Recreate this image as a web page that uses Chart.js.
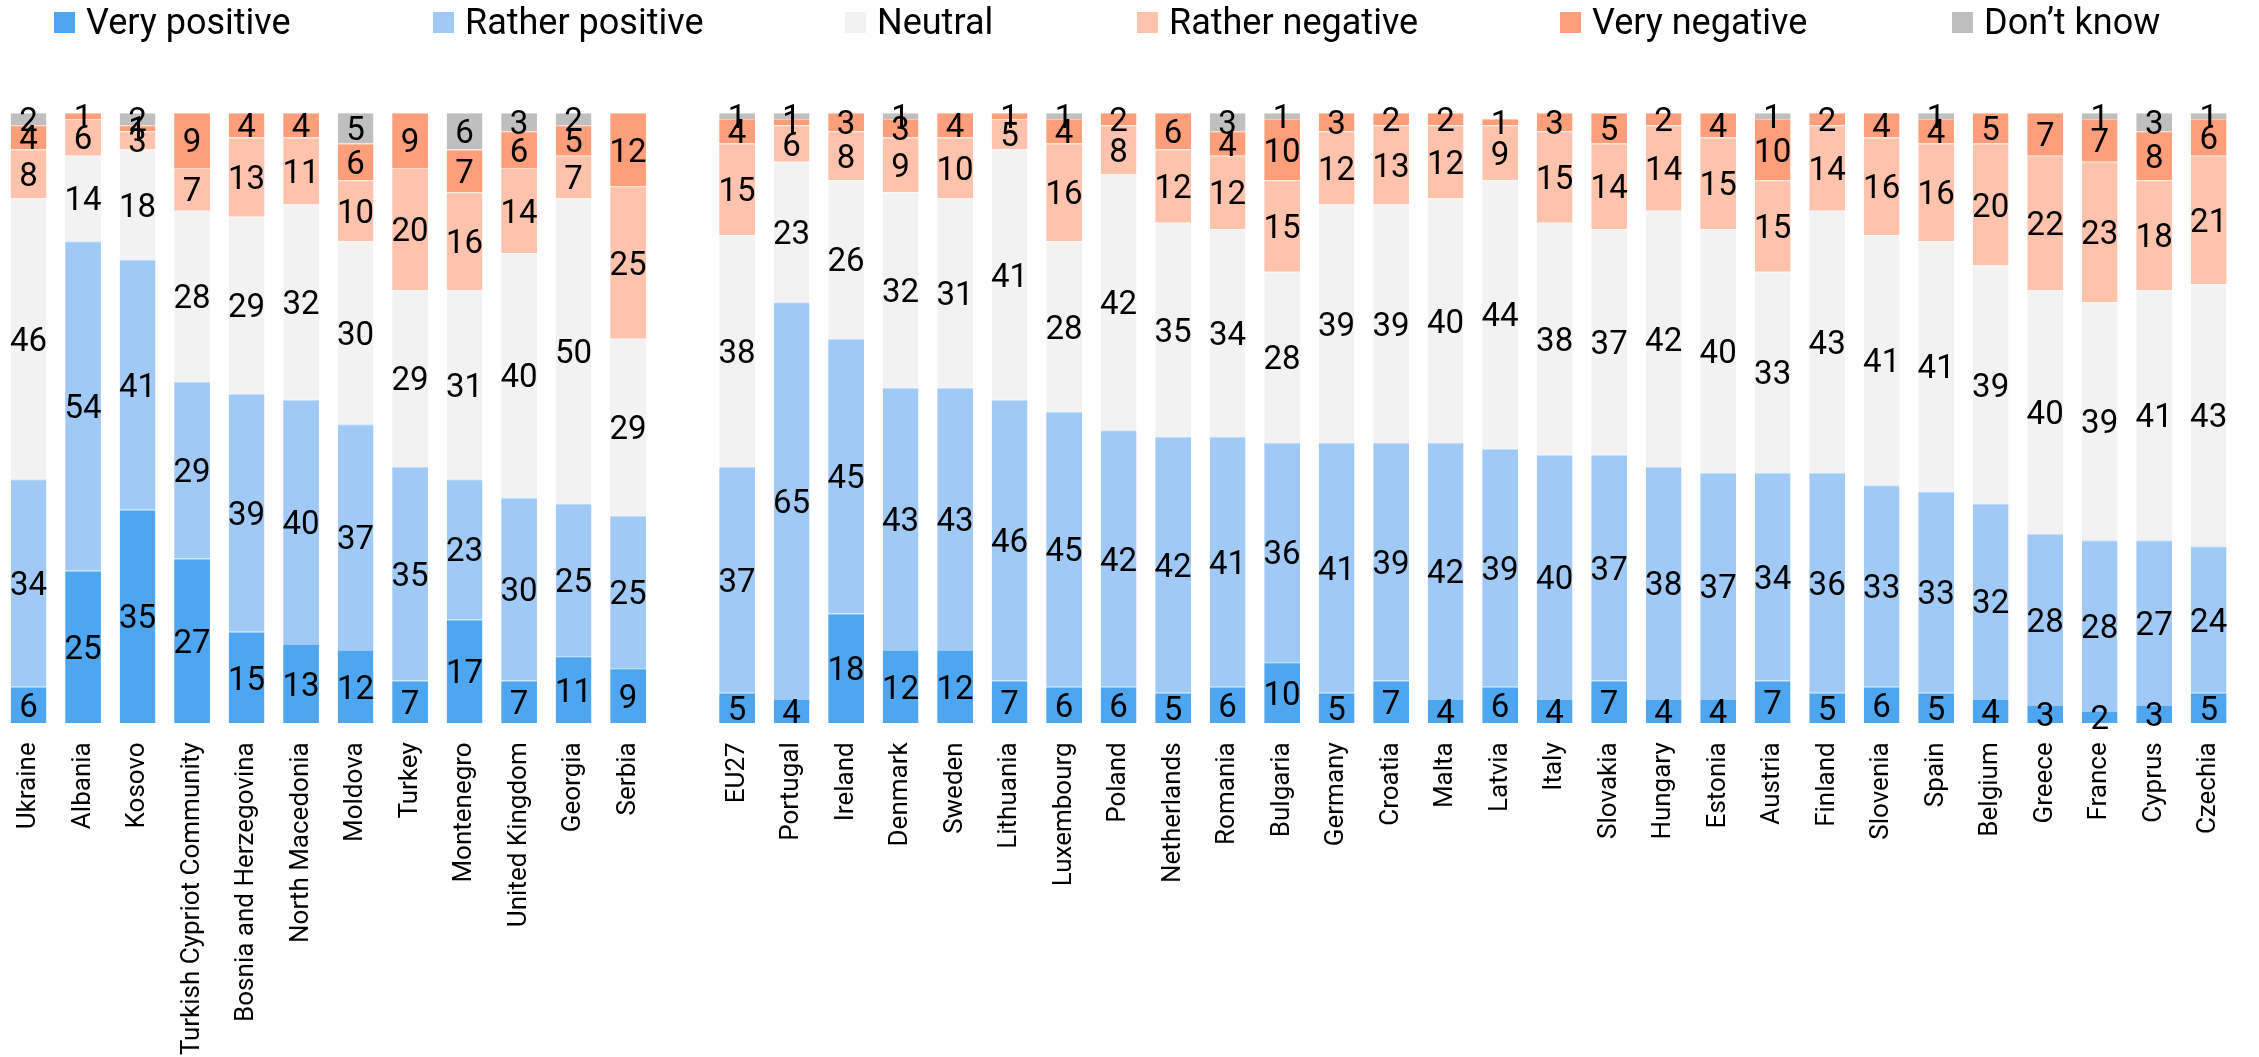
<!DOCTYPE html>
<html>
<head>
<meta charset="utf-8">
<script src="https://cdn.jsdelivr.net/npm/chart.js@4.4.1/dist/chart.umd.min.js"></script>
<style>
  html, body { margin: 0; padding: 0; background: #fff; }
  #wrap { position: relative; width: 2259px; height: 1057px; }
</style>
</head>
<body>
<div id="wrap"><canvas id="chart" width="2259" height="1057"></canvas></div>
<script>
// categories (empty slot = gap between the two groups)
const countries = [
  'Ukraine', 'Albania', 'Kosovo', 'Turkish Cypriot Community', 'Bosnia and Herzegovina',
  'North Macedonia', 'Moldova', 'Turkey', 'Montenegro', 'United Kingdom', 'Georgia', 'Serbia',
  '',
  'EU27', 'Portugal', 'Ireland', 'Denmark', 'Sweden', 'Lithuania', 'Luxembourg', 'Poland',
  'Netherlands', 'Romania', 'Bulgaria', 'Germany', 'Croatia', 'Malta', 'Latvia', 'Italy',
  'Slovakia', 'Hungary', 'Estonia', 'Austria', 'Finland', 'Slovenia', 'Spain', 'Belgium',
  'Greece', 'France', 'Cyprus', 'Czechia'
];

const veryPositive = [6, 25, 35, 27, 15, 13, 12, 7, 17, 7, 11, 9, null,
  5, 4, 18, 12, 12, 7, 6, 6, 5, 6, 10, 5, 7, 4, 6, 4, 7, 4, 4, 7, 5, 6, 5, 4, 3, 2, 3, 5];
const ratherPositive = [34, 54, 41, 29, 39, 40, 37, 35, 23, 30, 25, 25, null,
  37, 65, 45, 43, 43, 46, 45, 42, 42, 41, 36, 41, 39, 42, 39, 40, 37, 38, 37, 34, 36, 33, 33, 32, 28, 28, 27, 24];
const neutral = [46, 14, 18, 28, 29, 32, 30, 29, 31, 40, 50, 29, null,
  38, 23, 26, 32, 31, 41, 28, 42, 35, 34, 28, 39, 39, 40, 44, 38, 37, 42, 40, 33, 43, 41, 41, 39, 40, 39, 41, 43];
const ratherNegative = [8, 6, 3, 7, 13, 11, 10, 20, 16, 14, 7, 25, null,
  15, 6, 8, 9, 10, 5, 16, 8, 12, 12, 15, 12, 13, 12, 9, 15, 14, 14, 15, 15, 14, 16, 16, 20, 22, 23, 18, 21];
const veryNegative = [4, 1, 1, 9, 4, 4, 6, 9, 7, 6, 5, 12, null,
  4, 1, 3, 3, 4, 1, 4, 2, 6, 4, 10, 3, 2, 2, 1, 3, 5, 2, 4, 10, 2, 4, 4, 5, 7, 7, 8, 6];
const dontKnow = [2, null, 2, null, null, null, 5, null, 6, 3, 2, null, null,
  1, 1, null, 1, null, null, 1, null, null, 3, 1, null, null, null, null, null, null, null, null, 1, null, null, 1, null, null, 1, 3, 1];

const seriesNames = ['Very positive', 'Rather positive', 'Neutral', 'Rather negative', 'Very negative', 'Don\u2019t know'];
const seriesValues = [veryPositive, ratherPositive, neutral, ratherNegative, veryNegative, dontKnow];
const seriesColors = ['#4da6ef', '#a1c9f6', '#f2f2f2', '#ffc3ad', '#ff9e7a', '#bfbfbf'];
// thin lighter line on top of each segment
const seriesEdges = ['#94caf5', '#bddffa', '#f8f8f8', '#ffdbce', '#ffc5af', '#d9d9d9'];

// legend item x positions (matching the original layout)
const legendX = [54, 433, 845, 1137, 1560, 1952];

const FONT = 'Roboto, "Noto Sans", sans-serif';

const valueLabels = {
  id: 'valueLabels',
  afterDatasetsDraw(chart) {
    const ctx = chart.ctx;
    ctx.save();
    ctx.font = '33px ' + FONT;
    ctx.fillStyle = '#000';
    ctx.textAlign = 'center';
    ctx.textBaseline = 'alphabetic';
    chart.data.datasets.forEach((ds, i) => {
      const meta = chart.getDatasetMeta(i);
      meta.data.forEach((bar, j) => {
        const v = ds.data[j];
        if (v == null) return;
        const p = bar.getProps(['x', 'y', 'base'], true);
        ctx.fillText(String(v), p.x, (p.y + p.base) / 2 + 12);
      });
    });
    ctx.restore();
  }
};

const topLegend = {
  id: 'topLegend',
  afterDraw(chart) {
    const ctx = chart.ctx;
    ctx.save();
    ctx.font = '36px ' + FONT;
    ctx.textBaseline = 'alphabetic';
    ctx.textAlign = 'left';
    chart.data.datasets.forEach((ds, i) => {
      const x = legendX[i];
      ctx.fillStyle = ds.backgroundColor;
      ctx.fillRect(x, 12, 21, 21);
      ctx.fillStyle = '#000';
      ctx.fillText(ds.label, x + 32, 34);
    });
    ctx.restore();
  }
};

function draw() {
  new Chart(document.getElementById('chart'), {
    type: 'bar',
    data: {
      labels: countries,
      datasets: seriesNames.map((name, i) => ({
        label: name,
        data: seriesValues[i],
        backgroundColor: seriesColors[i],
        borderColor: seriesEdges[i],
        borderWidth: { top: 1, bottom: 0, left: 0, right: 0 },
        borderSkipped: 'start',
        barPercentage: 0.657,
        categoryPercentage: 1
      }))
    },
    options: {
      responsive: false,
      animation: false,
      devicePixelRatio: 1,
      layout: { padding: { left: 1.3, right: 11.6, top: 113, bottom: 0 } },
      plugins: { legend: { display: false }, tooltip: { enabled: false } },
      scales: {
        x: {
          stacked: true,
          grid: { display: false, drawTicks: false, tickLength: 0 },
          border: { display: false },
          ticks: {
            autoSkip: false,
            minRotation: 90,
            maxRotation: 90,
            padding: 19,
            color: '#000',
            font: { family: FONT, size: 26 }
          },
          afterFit(scale) { scale.height = 1057 - 723.3; }
        },
        y: {
          stacked: true,
          display: false,
          min: 0,
          max: 100
        }
      }
    },
    plugins: [valueLabels, topLegend]
  });
}

if (document.fonts && document.fonts.load) {
  Promise.all([document.fonts.load('33px Roboto'), document.fonts.load('26px Roboto')])
    .then(draw, draw);
} else {
  draw();
}
</script>
</body>
</html>
